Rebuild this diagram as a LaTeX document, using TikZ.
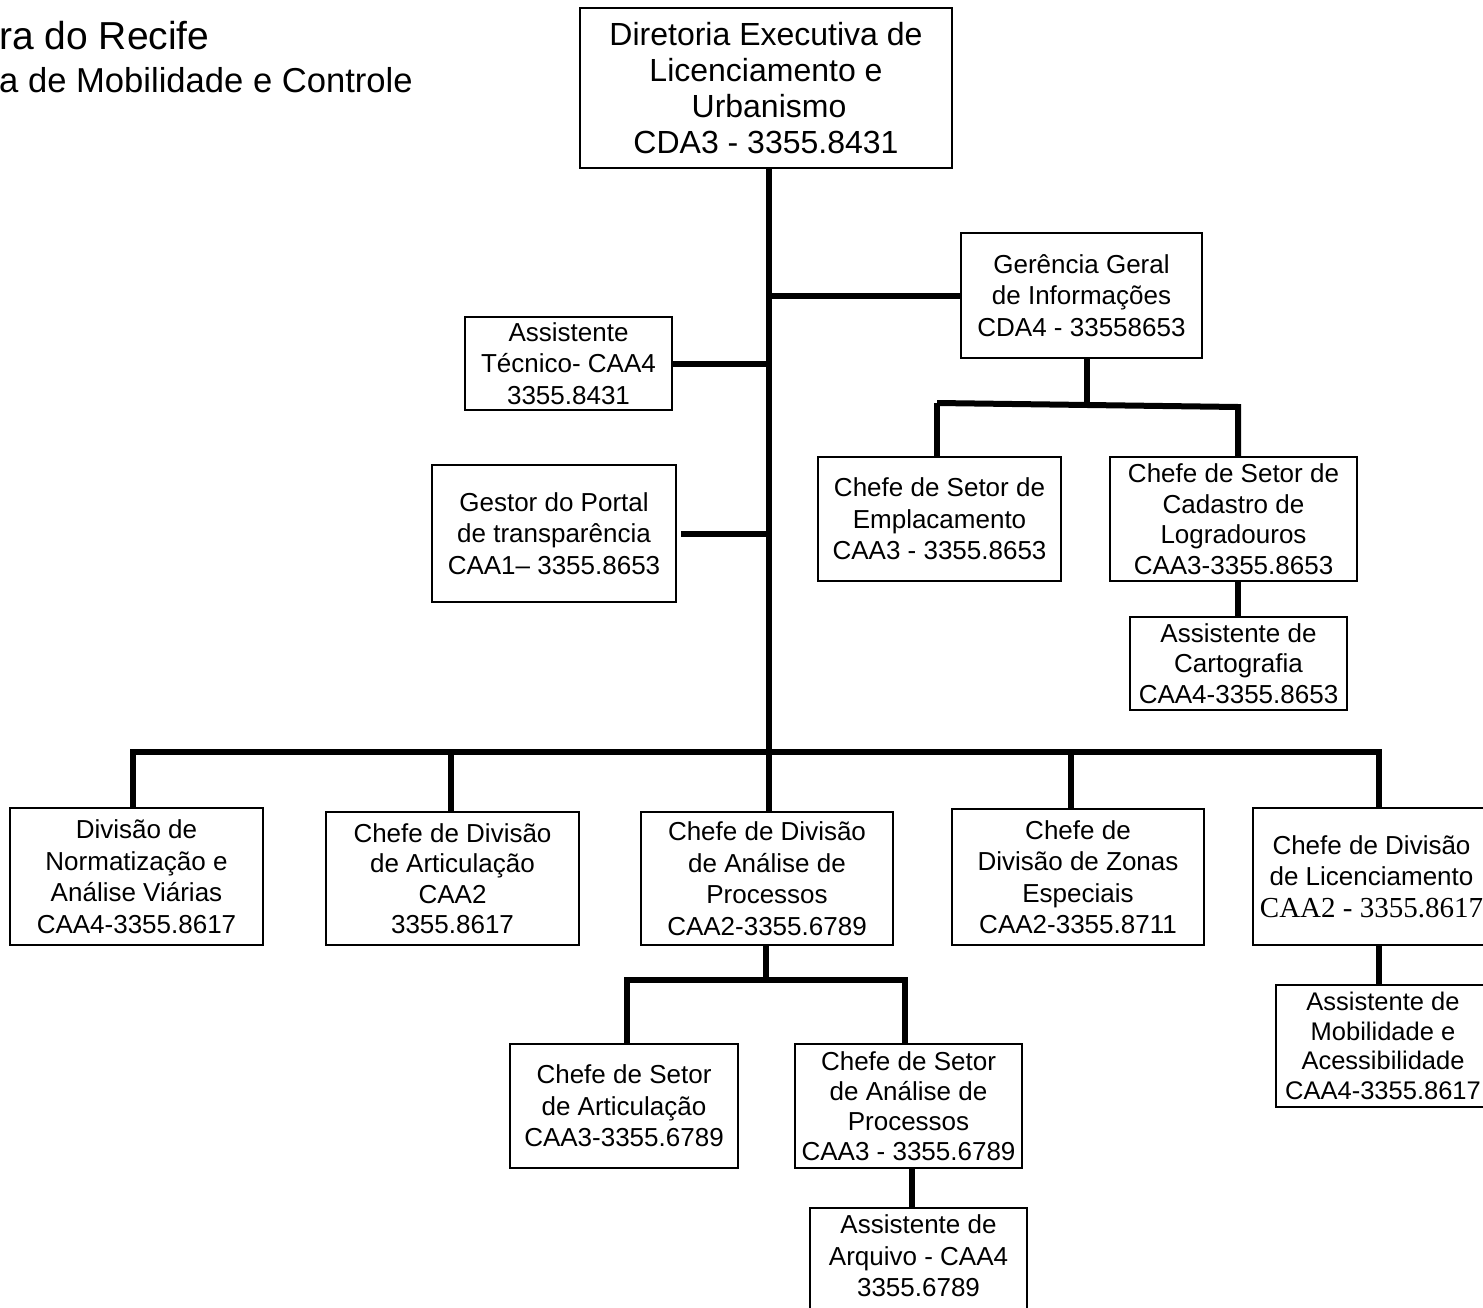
\documentclass[tikz,border=0pt]{standalone}
\usepackage{fontspec}
\setmainfont{Liberation Sans}
\newfontfamily\serifont{Liberation Serif}
\begin{document}
\begin{tikzpicture}[x=1pt,y=-1pt]
\tikzset{
  box/.style={draw, line width=1.8pt, align=center, inner sep=0pt, font=\fontsize{26}{31.5}\selectfont},
  conn/.style={line width=6pt},
  ttl/.style={anchor=base west, inner sep=0pt}
}
\useasboundingbox (0,0) rectangle (1483,1308);
% title
\node[ttl, font=\fontsize{39}{39}\selectfont] (t1) at (-1,50) {ra do Recife};
\node[ttl, font=\fontsize{34.6}{35}\selectfont] (t2) at (-1,93) {a de Mobilidade e Controle};
% boxes
\node[box, minimum width=372, minimum height=160, font=\fontsize{32}{36}\selectfont] (top) at (766,88)
  {Diretoria Executiva de\\Licenciamento e\\\hspace{6pt}Urbanismo\\CDA3 - 3355.8431};
\node[box, minimum width=241, minimum height=125] (gg) at (1081.5,295.5)
  {Gerência Geral\\de Informações\\CDA4 - 33558653};
\node[box, minimum width=207, minimum height=93] (at) at (568.5,363.5)
  {Assistente\\Técnico- CAA4\\3355.8431};
\node[box, minimum width=244, minimum height=137] (gp) at (554,533.5)
  {Gestor do Portal\\de transparência\\CAA1– 3355.8653};
\node[box, minimum width=243, minimum height=124] (emp) at (939.5,519)
  {Chefe de Setor de\\Emplacamento\\CAA3 - 3355.8653};
\node[box, minimum width=247, minimum height=124, font=\fontsize{26}{30.5}\selectfont] (log) at (1233.5,519)
  {Chefe de Setor de\\Cadastro de\\Logradouros\\CAA3-3355.8653};
\node[box, minimum width=217, minimum height=93, font=\fontsize{26}{30.5}\selectfont] (car) at (1238.5,663.5)
  {Assistente de\\Cartografia\\CAA4-3355.8653};
\node[box, minimum width=253, minimum height=137] (d1) at (136.5,876.5)
  {Divisão de\\Normatização e\\Análise Viárias\\CAA4-3355.8617};
\node[box, minimum width=253, minimum height=133, font=\fontsize{26}{30.5}\selectfont] (d2) at (452.5,878.5)
  {Chefe de Divisão\\de Articulação\\CAA2\\3355.8617};
\node[box, minimum width=252, minimum height=133] (d3) at (767,878.5)
  {Chefe de Divisão\\de Análise de\\Processos\\CAA2-3355.6789};
\node[box, minimum width=252, minimum height=136] (d4) at (1078,877)
  {Chefe de\\Divisão de Zonas\\Especiais\\CAA2-3355.8711};
\node[box, minimum width=237, minimum height=137] (d5) at (1371.5,876.5)
  {Chefe de Divisão\\de Licenciamento\\{\serifont\fontsize{29}{30}\selectfont CAA2 - 3355.8617}};
\node[box, minimum width=214, minimum height=122, font=\fontsize{25.5}{29.5}\selectfont] (mob) at (1383,1046)
  {Assistente de\\Mobilidade e\\Acessibilidade\\CAA4-3355.8617};
\node[box, minimum width=228, minimum height=124] (sa) at (624,1106)
  {Chefe de Setor\\de Articulação\\CAA3-3355.6789};
\node[box, minimum width=227, minimum height=124, font=\fontsize{26}{30}\selectfont] (sp) at (908.5,1106)
  {Chefe de Setor\\de Análise de\\Processos\\CAA3 - 3355.6789};
\node[box, minimum width=217, minimum height=122, text depth=26pt] (arq) at (918.5,1269)
  {Assistente de\\Arquivo - CAA4\\3355.6789};
% connector coordinates
\coordinate (jb) at (769,752);
\coordinate (g1) at (1087,407);
\coordinate (e1) at (937,403);
\coordinate (l1) at (1238,407);
\coordinate (b1) at (133,752);
\coordinate (b2) at (451,752);
\coordinate (b4) at (1071,752);
\coordinate (b5) at (1379,752);
\coordinate (a0) at (766,980);
\coordinate (a1) at (627,980);
\coordinate (a2) at (905,980);
\coordinate (p1) at (912,1188);
% connectors
\draw[conn] (jb |- top.south) -- (jb |- d3.north);
\draw[conn] (gg.west) -- (gg.west -| jb);
\draw[conn] (at.east) -- (at.east -| jb);
\draw[conn] ([xshift=4pt]gp.east) -- (gp.east -| jb);
\draw[conn] (g1 |- gg.south) -- (g1);
\draw[conn] (e1) -- (l1) -- (l1 |- log.north);
\draw[conn] (e1) -- (e1 |- emp.north);
\draw[conn] (l1 |- log.south) -- (l1 |- car.north);
\draw[conn] (b1 |- d1.north) -- (b1) -- (b5) -- (b5 |- d5.north);
\draw[conn] (b2) -- (b2 |- d2.north);
\draw[conn] (b4) -- (b4 |- d4.north);
\draw[conn] (b5 |- d5.south) -- (b5 |- mob.north);
\draw[conn] (a0 |- d3.south) -- (a0);
\draw[conn] (a1 |- sa.north) -- (a1) -- (a2) -- (a2 |- sp.north);
\draw[conn] (p1 |- sp.south) -- (p1 |- arq.north);
\end{tikzpicture}
\end{document}
